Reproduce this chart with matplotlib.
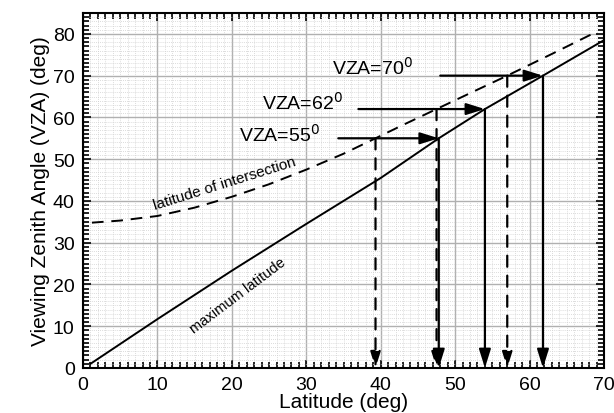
import matplotlib
matplotlib.use("Agg")
import matplotlib.pyplot as plt
from matplotlib.ticker import MultipleLocator

# Data
max_lat_x = [1, 10, 20, 30, 40, 47.8, 54, 61.8, 70]
max_lat_y = [1, 11.7, 23.3, 34.5, 45.5, 55, 62, 70, 78.5]

inter_x = [1.2, 5, 10, 15, 20, 25, 30, 35, 39.3, 43, 47.5, 52, 57, 63, 69]
inter_y = [34.8, 35.3, 36.4, 38.4, 41.0, 44.0, 47.5, 51.3, 55, 58.2, 62, 65.8, 70, 75.2, 80.5]

vza_levels = [55, 62, 70]
vza_labels = ["VZA=55$^0$", "VZA=62$^0$", "VZA=70$^0$"]
arrow_start_x = [34.3, 37.0, 48.0]
max_lat_at_vza = [47.8, 54.0, 61.8]
inter_lat_at_vza = [39.3, 47.5, 57.0]
label_pos = [(21.0, 56.0), (24.0, 63.8), (33.5, 72.2)]

plt.rcParams['font.family'] = ['Liberation Sans', 'DejaVu Sans']

fig = plt.figure(figsize=(6.14, 4.14), dpi=100)
ax = fig.add_axes([83/614, 1 - 369/414, (604-83)/614, (369-14)/414])

ax.set_xlim(0, 70)
ax.set_ylim(0, 85)
ax.xaxis.set_major_locator(MultipleLocator(10))
ax.xaxis.set_minor_locator(MultipleLocator(1))
ax.yaxis.set_major_locator(MultipleLocator(10))
ax.yaxis.set_minor_locator(MultipleLocator(1))
ax.grid(which='major', color='#b0b0b0', lw=1.0)
ax.grid(which='minor', color='#d0d0d0', lw=0.6, ls=(0, (1, 1.5)))
ax.set_axisbelow(True)
ax.tick_params(which='both', direction='in', top=True, right=True, labelsize=14, colors='black')
ax.tick_params(which='major', length=6, width=1.2, pad=6)
ax.tick_params(which='minor', length=4, width=1.2)
for s in ax.spines.values():
    s.set_linewidth(1.5)

ax.plot(max_lat_x, max_lat_y, color='black', lw=1.4)
ax.plot(inter_x, inter_y, color='black', lw=1.4, ls=(0, (6, 4)))

for v, xs, xm, xi, lab, lp in zip(vza_levels, arrow_start_x, max_lat_at_vza,
                                   inter_lat_at_vza, vza_labels, label_pos):
    ax.annotate('', xy=(xm, v), xytext=(xs, v),
                arrowprops=dict(arrowstyle='-|>,head_length=0.8,head_width=0.25', color='black', lw=1.6,
                                mutation_scale=14, shrinkA=0, shrinkB=0))
    ax.annotate('', xy=(xm, 0), xytext=(xm, v),
                arrowprops=dict(arrowstyle='-|>,head_length=0.8,head_width=0.25', color='black', lw=1.6,
                                mutation_scale=14, shrinkA=0, shrinkB=0))
    ax.annotate('', xy=(xi, 0), xytext=(xi, v),
                arrowprops=dict(arrowstyle='-|>,head_length=0.8,head_width=0.25', color='black', lw=1.6,
                                ls=(0, (5, 4)), mutation_scale=12, shrinkA=0, shrinkB=0))
    ax.text(lp[0], lp[1], lab, fontsize=14, ha='left', va='center')

ax.text(19.0, 44.3, 'latitude of intersection', fontsize=11, rotation=17.4,
        ha='center', va='center')
ax.text(20.8, 17.6, 'maximum latitude', fontsize=10.5, rotation=37,
        ha='center', va='center')

ax.set_xlabel('Latitude (deg)', fontsize=15, labelpad=-1)
ax.set_ylabel('Viewing Zenith Angle (VZA) (deg)', fontsize=15, labelpad=2)

fig.savefig('out.png', dpi=100)
